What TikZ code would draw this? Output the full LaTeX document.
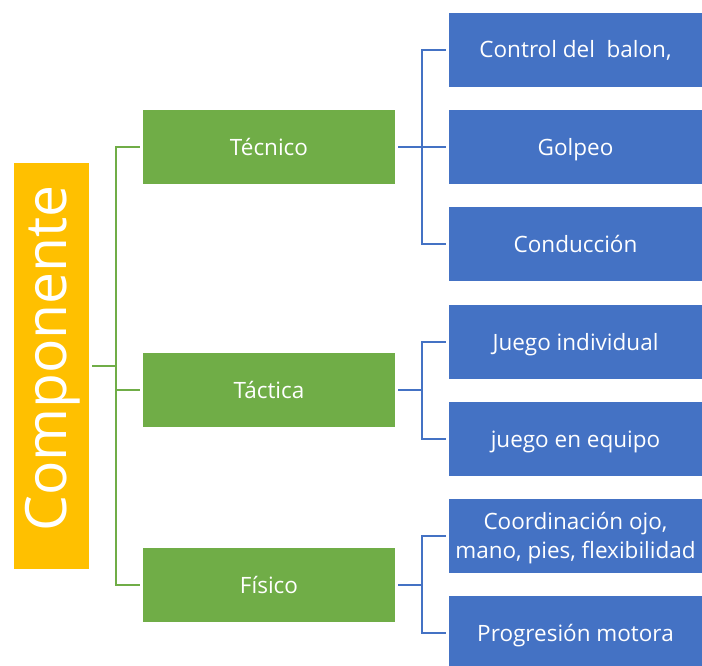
\documentclass[tikz,border=0pt]{standalone}
\usepackage{fontspec}
\setmainfont{Open Sans}
\definecolor{cgreen}{HTML}{70AD47}
\definecolor{cblue}{HTML}{4472C4}
\definecolor{corange}{HTML}{FFC000}
\begin{document}
\begin{tikzpicture}[x=1bp,y=-1bp,
  boxtxt/.style={text=white,inner sep=0pt,align=center,font=\fontsize{22.5bp}{29bp}\selectfont,text height=16bp,text depth=0pt},
  gbox/.style={boxtxt,fill=cgreen,minimum width=252bp,minimum height=74bp},
  bbox/.style={boxtxt,fill=cblue,minimum width=253bp,minimum height=74bp},
  gline/.style={draw=cgreen,line width=2.5bp},
  bline/.style={draw=cblue,line width=2.5bp}]
\useasboundingbox (0,0) rectangle (702,666);
\node[fill=corange,minimum width=75bp,minimum height=406bp,inner sep=0pt] (comp) at (51.5,366) {};
\node[rotate=90,anchor=base,inner sep=0pt,text=white,font=\fontsize{57bp}{60bp}\selectfont] (comptxt) at (66,358.5) {Componente};
\node[gbox] (tec) at (269,147) {Técnico};
\node[gbox] (tac) at (269,390) {Táctica};
\node[gbox] (fis) at (269,585) {Físico};
\node[bbox] (b1) at (575.5,50) {Control del\ \ balon,};
\node[bbox] (b2) at (575.5,147) {Golpeo};
\node[bbox] (b3) at (575.5,244) {Conducción};
\node[bbox] (b4) at (575.5,342) {Juego individual};
\node[bbox] (b5) at (575.5,439) {juego en equipo};
\node[bbox,text height=45bp] (b6) at (575.5,536) {Coordinación ojo,\\mano, pies, flexibilidad};
\node[bbox] (b7) at (575.5,633) {Progresión motora};
\coordinate (j0) at (116,366);
\coordinate (j1) at (422,147);
\coordinate (j2) at (422,390);
\coordinate (j3) at (422,585);
\draw[gline] ([xshift=3bp]comp.east) -- (j0);
\draw[gline] ([xshift=-3bp]tec.west) -| (j0) |- ([xshift=-3bp]fis.west);
\draw[gline] (j0) |- ([xshift=-3bp]tac.west);
\draw[bline] ([xshift=3bp]tec.east) -- (j1);
\draw[bline] ([xshift=-3bp]b1.west) -| (j1) |- ([xshift=-3bp]b3.west);
\draw[bline] (j1) -- ([xshift=-3bp]b2.west);
\draw[bline] ([xshift=3bp]tac.east) -- (j2);
\draw[bline] ([xshift=-3bp]b4.west) -| (j2) |- ([xshift=-3bp]b5.west);
\draw[bline] ([xshift=3bp]fis.east) -- (j3);
\draw[bline] ([xshift=-3bp]b6.west) -| (j3) |- ([xshift=-3bp]b7.west);
\end{tikzpicture}
\end{document}
